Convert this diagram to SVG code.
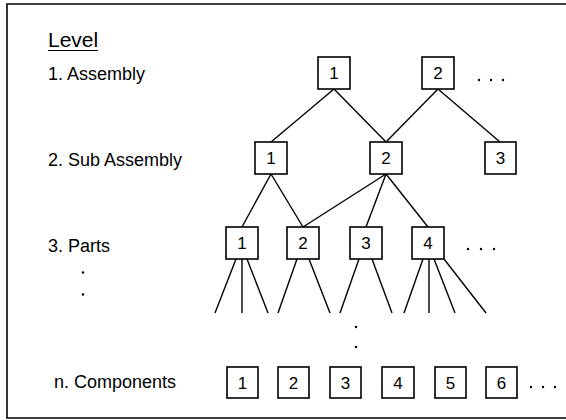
<svg xmlns="http://www.w3.org/2000/svg" width="566" height="420" viewBox="0 0 566 420">
<style>
.lbl{font-family:"Liberation Sans",Arial,sans-serif;font-size:18px;fill:#000}
.num{font-family:"Liberation Sans",Arial,sans-serif;font-size:17px;fill:#000;text-anchor:middle}
.box{fill:#fff;stroke:#000;stroke-width:1.6}
.ln{stroke:#000;stroke-width:1.4;fill:none}
.dot{fill:#000}
</style>
<rect width="566" height="420" fill="#fff"/>
<path d="M566,4 H7 V418 H566" fill="none" stroke="#000" stroke-width="1.6"/>
<g id="labels">
<text class="lbl" x="48" y="47" style="font-size:21px">Level</text>
<line x1="48" y1="50.5" x2="98" y2="50.5" stroke="#000" stroke-width="1.2"/>
<text class="lbl" x="48" y="80">1. Assembly</text>
<text class="lbl" x="48" y="166">2. Sub Assembly</text>
<text class="lbl" x="48" y="252">3. Parts</text>
<circle class="dot" cx="83" cy="272.5" r="1.2"/>
<circle class="dot" cx="83" cy="294.5" r="1.2"/>
<text class="lbl" x="54" y="388">n. Components</text>
</g>
<g id="connectors">
<line class="ln" x1="334" y1="89" x2="271" y2="142"/>
<line class="ln" x1="334" y1="89" x2="386" y2="142"/>
<line class="ln" x1="438" y1="89" x2="386" y2="142"/>
<line class="ln" x1="438" y1="89" x2="500" y2="142"/>
<line class="ln" x1="271" y1="174" x2="242" y2="227"/>
<line class="ln" x1="271" y1="174" x2="303" y2="227"/>
<line class="ln" x1="386" y1="174" x2="303" y2="227"/>
<line class="ln" x1="386" y1="174" x2="366" y2="227"/>
<line class="ln" x1="386" y1="174" x2="428" y2="227"/>
<line class="ln" x1="236" y1="259" x2="215" y2="313"/>
<line class="ln" x1="242" y1="259" x2="242" y2="313"/>
<line class="ln" x1="247" y1="259" x2="268" y2="313"/>
<line class="ln" x1="297" y1="259" x2="278" y2="313"/>
<line class="ln" x1="309" y1="259" x2="330" y2="313"/>
<line class="ln" x1="359" y1="259" x2="340" y2="313"/>
<line class="ln" x1="372" y1="259" x2="392" y2="313"/>
<line class="ln" x1="423" y1="259" x2="404" y2="313"/>
<line class="ln" x1="429" y1="259" x2="429" y2="313"/>
<line class="ln" x1="434" y1="259" x2="455" y2="313"/>
<line class="ln" x1="444" y1="259" x2="486" y2="313"/>
</g>
<g id="l1-1"><rect class="box" x="318" y="57" width="32" height="32"/><text class="num" x="334" y="79">1</text></g>
<g id="l1-2"><rect class="box" x="422" y="57" width="32" height="32"/><text class="num" x="438" y="79">2</text></g>
<g id="l1-more"><circle class="dot" cx="479" cy="80" r="1.2"/><circle class="dot" cx="491" cy="80" r="1.2"/><circle class="dot" cx="503" cy="80" r="1.2"/></g>
<g id="l2-1"><rect class="box" x="255" y="142" width="32" height="32"/><text class="num" x="271" y="164">1</text></g>
<g id="l2-2"><rect class="box" x="370" y="142" width="32" height="32"/><text class="num" x="386" y="164">2</text></g>
<g id="l2-3"><rect class="box" x="485" y="142" width="31" height="32"/><text class="num" x="500.5" y="164">3</text></g>
<g id="l3-1"><rect class="box" x="226" y="227" width="32" height="32"/><text class="num" x="242" y="249">1</text></g>
<g id="l3-2"><rect class="box" x="287" y="227" width="32" height="32"/><text class="num" x="303" y="249">2</text></g>
<g id="l3-3"><rect class="box" x="350" y="227" width="32" height="32"/><text class="num" x="366" y="249">3</text></g>
<g id="l3-4"><rect class="box" x="412" y="227" width="32" height="32"/><text class="num" x="428" y="249">4</text></g>
<g id="l3-more"><circle class="dot" cx="468" cy="249" r="1.2"/><circle class="dot" cx="481" cy="249" r="1.2"/><circle class="dot" cx="494" cy="249" r="1.2"/></g>
<g id="mid-dots"><circle class="dot" cx="356" cy="327" r="1.2"/><circle class="dot" cx="356" cy="347" r="1.2"/></g>
<g id="ln-1"><rect class="box" x="227" y="367" width="31" height="31"/><text class="num" x="242.5" y="388.5">1</text></g>
<g id="ln-2"><rect class="box" x="278" y="367" width="31" height="31"/><text class="num" x="293.5" y="388.5">2</text></g>
<g id="ln-3"><rect class="box" x="330" y="367" width="31" height="31"/><text class="num" x="345.5" y="388.5">3</text></g>
<g id="ln-4"><rect class="box" x="382" y="367" width="32" height="31"/><text class="num" x="398" y="388.5">4</text></g>
<g id="ln-5"><rect class="box" x="435" y="367" width="31" height="31"/><text class="num" x="450.5" y="388.5">5</text></g>
<g id="ln-6"><rect class="box" x="486" y="367" width="31" height="31"/><text class="num" x="501.5" y="388.5">6</text></g>
<g id="ln-more"><circle class="dot" cx="531" cy="387" r="1.2"/><circle class="dot" cx="543" cy="387" r="1.2"/><circle class="dot" cx="555" cy="387" r="1.2"/></g>
</svg>
